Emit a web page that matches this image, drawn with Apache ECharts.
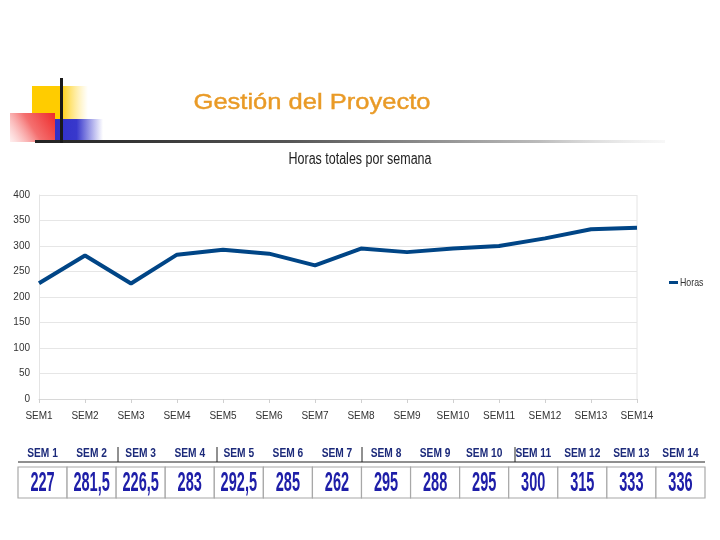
<!DOCTYPE html>
<html>
<head>
<meta charset="utf-8">
<script src="https://cdn.jsdelivr.net/npm/echarts@6/dist/echarts.min.js"></script>
<style>html,body{margin:0;padding:0;background:#fff}#c{width:720px;height:540px}</style>
</head>
<body>
<div id="c"></div>
<script>
const categories = ['SEM1','SEM2','SEM3','SEM4','SEM5','SEM6','SEM7','SEM8','SEM9','SEM10','SEM11','SEM12','SEM13','SEM14'];
const horas = [227, 281.5, 226.5, 283, 292.5, 285, 262, 295, 288, 295, 300, 315, 333, 336];
const tableHeaders = ['SEM 1','SEM 2','SEM 3','SEM 4','SEM 5','SEM 6','SEM 7','SEM 8','SEM 9','SEM 10','SEM 11','SEM 12','SEM 13','SEM 14'];
const tableValues = ['227','281,5','226,5','283','292,5','285','262','295','288','295','300','315','333','336'];
const yTicks = [0, 50, 100, 150, 200, 250, 300, 350, 400];

const chart = echarts.init(document.getElementById('c'), null, {renderer: 'canvas'});

const tblLeft = 18, tblRight = 705, tblTop = 467, tblBottom = 498;
const colW = (tblRight - tblLeft) / tableHeaders.length;
const graphics = [];

// decorative corner
graphics.push({type:'rect', shape:{x:32,y:86,width:56,height:33}, style:{fill:new echarts.graphic.LinearGradient(0,0,1,0,[{offset:0,color:'#ffcc00'},{offset:0.5,color:'#ffcc00'},{offset:1,color:'rgba(255,220,80,0)'}])}});
graphics.push({type:'rect', shape:{x:55,y:119,width:48,height:23}, style:{fill:new echarts.graphic.LinearGradient(0,0,1,0,[{offset:0,color:'#3030c8'},{offset:0.45,color:'#3838cc'},{offset:1,color:'rgba(60,60,210,0)'}])}});
graphics.push({type:'rect', shape:{x:10,y:113,width:45,height:29}, style:{fill:new echarts.graphic.LinearGradient(1,0,0,1,[{offset:0,color:'#ee2a2a'},{offset:0.5,color:'#f47070'},{offset:1,color:'rgba(255,230,230,0.6)'}])}});
graphics.push({type:'rect', shape:{x:35,y:140,width:630,height:3}, style:{fill:new echarts.graphic.LinearGradient(0,0,1,0,[{offset:0,color:'#222222'},{offset:0.4,color:'#555555'},{offset:0.8,color:'#bbbbbb'},{offset:1,color:'rgba(230,230,230,0.3)'}])}});
graphics.push({type:'rect', shape:{x:60,y:78,width:3,height:65}, style:{fill:'#1a1a1a'}});

// main title
graphics.push({type:'text', x:312, y:103, scaleX:1.16, style:{text:'Gestión del Proyecto', fill:'#E99A26', font:'22px "Liberation Sans", Arial, sans-serif', textAlign:'center', textVerticalAlign:'middle', stroke:'#E99A26', lineWidth:0.4}});

// chart title (condensed)
graphics.push({type:'text', x:360, y:160, scaleX:0.78, style:{text:'Horas totales por semana', fill:'#222', font:'16px "Liberation Sans", Arial, sans-serif', textAlign:'center', textVerticalAlign:'middle'}});

// legend
graphics.push({type:'rect', shape:{x:669,y:281,width:9,height:3}, style:{fill:'#004586'}});
graphics.push({type:'text', x:680, y:283, scaleX:0.8, style:{text:'Horas', fill:'#333', font:'11px "Liberation Sans", Arial, sans-serif', textAlign:'left', textVerticalAlign:'middle'}});

// table header line and separators
graphics.push({type:'line', shape:{x1:tblLeft,y1:462,x2:tblRight,y2:462}, style:{stroke:'#222', lineWidth:1.2}});
[118, 217, 362, 515].forEach(x => graphics.push({type:'line', shape:{x1:x,y1:447,x2:x,y2:462}, style:{stroke:'#222', lineWidth:1}}));
tableHeaders.forEach((h, i) => {
  graphics.push({type:'text', x: tblLeft + colW*(i+0.5), y:454, scaleX:0.85, style:{text:h, fill:'#1c2a7a', font:'bold 12px "Liberation Sans", Arial, sans-serif', textAlign:'center', textVerticalAlign:'middle'}});
});
// table cells
tableValues.forEach((v, i) => {
  const x0 = tblLeft + colW*i;
  graphics.push({type:'rect', shape:{x:x0, y:tblTop, width:colW, height:tblBottom-tblTop}, style:{fill:'#fff', stroke:'#a8a8a8', lineWidth:1.2}});
  graphics.push({type:'text', x: x0 + colW/2, y:483, scaleX:0.52, style:{text:v, fill:'#1e1ea8', font:'bold 28px "Liberation Sans", Arial, sans-serif', textAlign:'center', textVerticalAlign:'middle'}});
});

chart.setOption({
  animation: false,
  backgroundColor: '#fff',
  grid: {left: 39, right: 83, top: 195, bottom: 141, containLabel: false},
  xAxis: {
    type: 'category', data: categories, boundaryGap: false,
    axisLine: {show: true, lineStyle: {color: '#d8d8d8'}},
    axisTick: {show: true, alignWithLabel: true, length: 4, lineStyle: {color: '#d0d0d0'}},
    axisLabel: {color: '#333', fontSize: 10, margin: 12, fontFamily: '"Liberation Sans", Arial, sans-serif'},
    splitLine: {show: false}
  },
  yAxis: {
    type: 'value', min: 0, max: 400, interval: 50,
    axisLine: {show: true, lineStyle: {color: '#e4e4e4'}},
    axisTick: {show: false},
    axisLabel: {color: '#333', fontSize: 10, margin: 9, fontFamily: '"Liberation Sans", Arial, sans-serif'},
    splitLine: {show: true, lineStyle: {color: '#e6e6e6'}}
  },
  series: [{
    name: 'Horas', type: 'line', data: horas, symbol: 'none',
    lineStyle: {color: '#004586', width: 4}, itemStyle: {color: '#004586'}
  }],
  graphic: graphics.concat([{type:'line', shape:{x1:637,y1:195,x2:637,y2:399}, style:{stroke:'#e4e4e4', lineWidth:1}, z:-1}])
});
</script>
</body>
</html>
